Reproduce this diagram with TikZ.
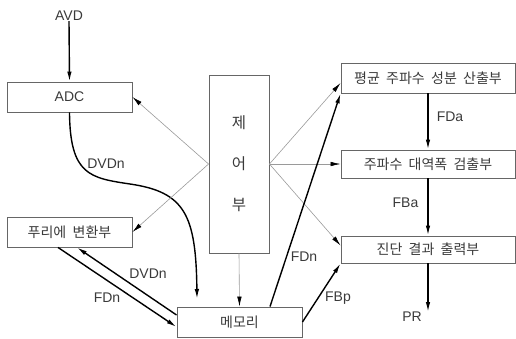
\documentclass[tikz,border=0pt]{standalone}
\usepackage{fontspec}
\setmainfont{Liberation Sans}
\newfontfamily\kr[WordSpace=2]{Noto Sans CJK KR}
\usetikzlibrary{arrows.meta}
\definecolor{txt}{HTML}{3A3A3A}
\definecolor{frame}{HTML}{666666}
\definecolor{ctl}{HTML}{9A9A9A}
\tikzset{
  unit/.style={draw=frame, line width=0.9pt, rectangle, inner sep=0pt,
               text=txt, font=\kr\fontsize{14}{16}\selectfont},
  lbl/.style={text=txt, font=\fontsize{14}{16}\selectfont, inner sep=0pt},
  flow/.style={line width=1.4pt, -{Latex[length=10pt,width=4.5pt]}},
  ctrlline/.style={draw=ctl, line width=0.6pt, -{Latex[length=10pt,width=4.5pt,color=black]}},
}
\begin{document}
\begin{tikzpicture}[x=1pt,y=-1pt]
\useasboundingbox (0,0) rectangle (516,338);

% processing units
\node[unit, minimum width=125pt, minimum height=30pt] (adc) at (69.5,97) {\fontspec{Liberation Sans}\fontsize{14}{16}\selectfont ADC};
\node[unit, minimum width=125pt, minimum height=30pt] (fft) at (69.5,232) {푸리에 변환부};
\node[unit, minimum width=60pt, minimum height=178pt, font=\kr\fontsize{15.5}{40}\selectfont, align=center] (ctrl) at (239,164) {제\\[1pt]어\\[1pt]부};
\node[unit, minimum width=125pt, minimum height=30pt] (mem) at (239.5,322) {메모리};
\node[unit, minimum width=174pt, minimum height=30pt] (avg) at (428,78) {평균 주파수 성분 산출부};
\node[unit, minimum width=174pt, minimum height=28pt] (bw) at (428,164) {주파수 대역폭 검출부};
\node[unit, minimum width=174pt, minimum height=27pt] (diag) at (428,249.5) {진단 결과 출력부};

% input signal
\node[lbl] (avd) at (69,16) {AVD};
\draw[flow] (avd.south) -- (adc.north);

% digitised data into memory
\coordinate (dvdnEnd) at (197,299);
\draw[flow] (adc.south) .. controls (70,175) and (90,178) .. (130,184)
            .. controls (185,192) and (196,215) .. (dvdnEnd);
\node[lbl] (lDVDn1) at (106,164) {DVDn};

% exchange between Fourier unit and memory
\draw[flow] ([xshift=-11.5pt]fft.south) -- ([yshift=-5pt]mem.west);
\draw[flow] ([yshift=7pt]mem.west) -- ([xshift=7.5pt]fft.south);
\node[lbl] (lDVDn2) at (148,274) {DVDn};
\node[lbl] (lFDn1) at (107,298) {FDn};

% control signals
\draw[ctrlline] (ctrl.west) -- (adc.east);
\draw[ctrlline] (ctrl.west) -- (fft.east);
\draw[ctrlline] (ctrl.east) -- ([yshift=-5pt]avg.west);
\draw[ctrlline] (ctrl.east) -- (bw.west);
\draw[ctrlline] (ctrl.east) -- ([yshift=4pt]diag.west);
\draw[ctrlline] (ctrl.south) -- (mem.north);

% analysis chain
\draw[flow] ([xshift=30.5pt]mem.north) -- (avg.south west);
\node[lbl] (lFDn2) at (304,257) {FDn};
\draw[flow] (mem.east) -- (diag.south west);
\node[lbl] (lFBp) at (338,298) {FBp};
\draw[flow] (avg.south) -- (bw.north);
\node[lbl] (lFDa) at (450,117) {FDa};
\draw[flow] (bw.south) -- (diag.north);
\node[lbl] (lFBa) at (405.5,203) {FBa};
\coordinate (prEnd) at (428,312);
\draw[flow] (diag.south) -- (prEnd);
\node[lbl] (lPR) at (412,317) {PR};
\end{tikzpicture}
\end{document}
